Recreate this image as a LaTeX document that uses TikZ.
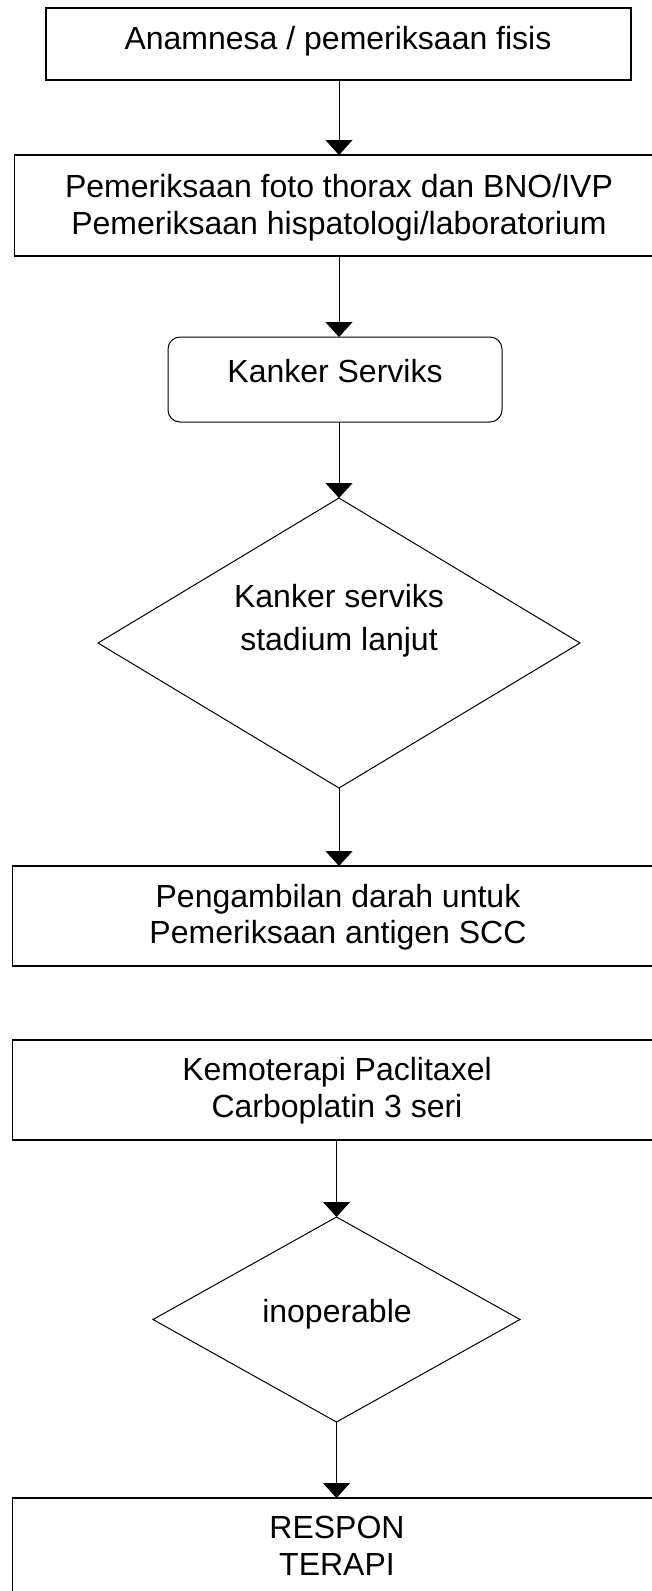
\documentclass[tikz,border=0pt]{standalone}
\usepackage{fontspec}
\setmainfont{Liberation Sans}
\usetikzlibrary{shapes.geometric,arrows.meta}
\begin{document}
\begin{tikzpicture}[x=1pt,y=1pt,
  box/.style={draw=black,line width=1.5pt,inner sep=0pt,outer sep=0pt},
  rbox/.style={draw=black,line width=1pt,rounded corners=12pt,inner sep=0pt,outer sep=0pt},
  dia/.style={draw=black,line width=1pt,diamond,inner sep=0pt,outer sep=0pt},
  txt/.style={anchor=base,inner sep=0pt,font=\fontsize{32}{38}\selectfont},
  arr/.style={draw=black,line width=1pt,-{Triangle[width=27pt,length=15pt]}}]
\useasboundingbox (0,0) rectangle (652,-1591);
\clip (0,0) rectangle (652,-1591);
\fill[white] (0,0) rectangle (652,-1591);
% shapes
\node[box,minimum width=585pt,minimum height=72pt] (b1) at (338.5,-44) {};
\node[box,minimum width=649pt,minimum height=101pt] (b2) at (339,-205.5) {};
\node[rbox,minimum width=334pt,minimum height=85pt] (r) at (335,-379.5) {};
\node[dia,minimum width=482pt,minimum height=290pt] (d1) at (339,-643) {};
\node[box,minimum width=653pt,minimum height=100pt] (b4) at (339,-916) {};
\node[box,minimum width=653pt,minimum height=100pt] (b5) at (339,-1090) {};
\node[dia,minimum width=367pt,minimum height=205pt] (d2) at (336.5,-1319.5) {};
\node[box,minimum width=653pt,minimum height=100pt] (b6) at (339,-1548) {};
% texts
\node[txt] (t1) at (338,-49.5) {Anamnesa / pemeriksaan fisis};
\node[txt] (t2a) at (339,-197) {Pemeriksaan foto thorax dan BNO/IVP};
\node[txt] (t2b) at (339,-234) {Pemeriksaan hispatologi/laboratorium};
\node[txt] (t3) at (335,-382) {Kanker Serviks};
\node[txt] (t4a) at (339,-607) {Kanker serviks};
\node[txt] (t4b) at (339,-650) {stadium lanjut};
\node[txt] (t5a) at (338,-907) {Pengambilan darah untuk};
\node[txt] (t5b) at (338,-943) {Pemeriksaan antigen SCC};
\node[txt] (t6a) at (337,-1080) {Kemoterapi Paclitaxel};
\node[txt] (t6b) at (337,-1117) {Carboplatin 3 seri};
\node[txt] (t7) at (337,-1322) {inoperable};
\node[txt] (t8a) at (337,-1538) {RESPON};
\node[txt] (t8b) at (337,-1575) {TERAPI};
% connectors
\coordinate (a1) at (339,-80);
\draw[arr] (b1.south -| a1) -- (b2.north -| a1);
\draw[arr] (b2.south -| a1) -- (r.north -| a1);
\draw[arr] (r.south -| d1.north) -- (d1.north);
\draw[arr] (d1.south) -- (d1.south |- b4.north);
\draw[arr] (b5.south -| d2.north) -- (d2.north);
\draw[arr] (d2.south) -- (d2.south |- b6.north);
\end{tikzpicture}
\end{document}
